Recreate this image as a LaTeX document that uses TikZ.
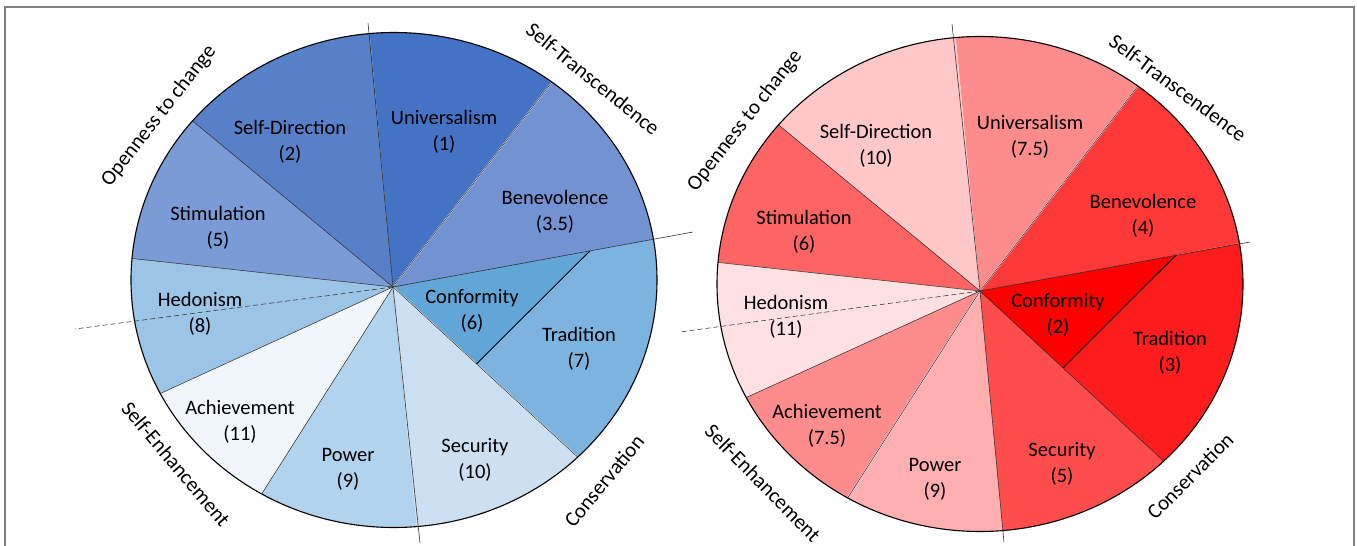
\documentclass[tikz,border=0pt]{standalone}
\usepackage{fontspec}
\setmainfont{Carlito}
\usetikzlibrary{calc}
\definecolor{LUni}{HTML}{4472C4}
\definecolor{LSD}{HTML}{5780C8}
\definecolor{LBen}{HTML}{7292D2}
\definecolor{LSti}{HTML}{7A9BD6}
\definecolor{LHed}{HTML}{9BC4E6}
\definecolor{LAch}{HTML}{F0F6FC}
\definecolor{LPow}{HTML}{B2D3ED}
\definecolor{LSec}{HTML}{CCE0F2}
\definecolor{LTra}{HTML}{7DB4DF}
\definecolor{LCon}{HTML}{62A6D8}
\definecolor{RUni}{HTML}{FF8C8C}
\definecolor{RSD}{HTML}{FFC8C8}
\definecolor{RBen}{HTML}{FF3838}
\definecolor{RSti}{HTML}{FF6464}
\definecolor{RHed}{HTML}{FFE1E3}
\definecolor{RAch}{HTML}{FF8C8C}
\definecolor{RPow}{HTML}{FFAFAF}
\definecolor{RSec}{HTML}{FF4D4D}
\definecolor{RTra}{HTML}{FF1C1C}
\definecolor{RCon}{HTML}{FF0000}
\definecolor{framegray}{HTML}{7F7F7F}
\newcommand{\mywedge}[6]{%
  \fill[#5] (#6) -- plot[domain=#3:#4, samples=40] ({#1+263*cos(\x)},{#2-247.5*sin(\x)}) -- cycle;}
\tikzset{
  sep/.style={draw=black!85, line width=0.5pt},
  whitesep/.style={draw=white, line width=1.2pt},
  rim/.style={draw=black, line width=1.1pt},
  axisline/.style={draw=black!80, line width=0.6pt},
  axisdash/.style={draw=black!75, line width=0.6pt, dash pattern=on 5pt off 3pt},
  frameline/.style={draw=framegray, line width=1.2pt},
  lab/.style={font=\fontsize{20.5}{26}\selectfont, align=center, text=black, inner sep=0pt},
  grp/.style={font=\fontsize{21}{25}\selectfont, text=black, inner sep=0pt},
}
\begin{document}
\begin{tikzpicture}[x=1pt,y=-1pt]
\useasboundingbox (0,0) rectangle (1357,546);
\fill[white] (0,0) rectangle (1357,546);
\draw[frameline] (5,546) -- (5,7) -- (1354,7) -- (1354,546);

% ---------------- left pie ----------------
\coordinate (LA) at (393,287);
\foreach \n/\t in {1/95.3,2/53.1,3/9.5,4/-45.7,5/-85,6/-120.2,7/207.3,8/175,9/140}{
  \coordinate (L\n) at ({394+263*cos(\t)},{280-247.5*sin(\t)});
}
\mywedge{394}{280}{53.1}{95.3}{LUni}{LA}
\mywedge{394}{280}{95.3}{140}{LSD}{LA}
\mywedge{394}{280}{140}{175}{LSti}{LA}
\mywedge{394}{280}{175}{207.3}{LHed}{LA}
\mywedge{394}{280}{207.3}{239.8}{LAch}{LA}
\mywedge{394}{280}{239.8}{275}{LPow}{LA}
\mywedge{394}{280}{275}{314.3}{LSec}{LA}
\mywedge{394}{280}{314.3}{369.5}{LTra}{LA}
\mywedge{394}{280}{9.5}{53.1}{LBen}{LA}
\coordinate (LC1) at ($(LA)!0.757!(L3)$);
\coordinate (LC2) at ($(LA)!0.452!(L4)$);
\fill[LCon] (LA) -- (LC1) -- (LC2) -- cycle;
\draw[whitesep] (LA) -- (L2);
\draw[whitesep] (LA) -- (L4);
\foreach \n in {2,4,6,7,8,9}{ \draw[sep] (LA) -- (L\n); }
\draw[draw=black, line width=0.9pt] (LC1) -- (LC2);
\draw[rim] (394,280) ellipse [x radius=263pt, y radius=247.5pt];
\coordinate (LVt) at (368,23);
\coordinate (LVb) at (420,543);
\coordinate (LE) at (693,232);
\coordinate (LD) at (75,329);
\draw[axisline] (LVt) -- (LA) -- (LVb);
\draw[axisline] (LA) -- (LE);
\draw[axisdash] (LA) -- (LD);

\node[lab] (lUni) at (444,132) {Universalism\\(1)};
\node[lab] (lSD) at (290,142) {Self-Direction\\(2)};
\node[lab] (lBen) at (555,212) {Benevolence\\(3.5)};
\node[lab] (lSti) at (218,228) {Stimulation\\(5)};
\node[lab] (lHed) at (200,314) {Hedonism\\(8)};
\node[lab] (lCon) at (472,311) {Conformity\\(6)};
\node[lab] (lTra) at (579,349) {Tradition\\(7)};
\node[lab] (lAch) at (240,422) {Achievement\\(11)};
\node[lab] (lPow) at (348,469) {Power\\(9)};
\node[lab] (lSec) at (475,460) {Security\\(10)};

\node[grp, rotate=52] (lgO) at (159,116) {Openness to change};
\node[grp, rotate=-39] (lgT) at (593,79) {Self-Transcendence};
\node[grp, rotate=50.5] (lgC) at (604,481) {Conservation};
\node[grp, rotate=-49.7] (lgE) at (176,464) {Self-Enhancement};

% ---------------- right pie ----------------
\coordinate (RA) at (980,291);
\foreach \n/\t in {1/95.3,2/53.1,3/9.5,4/-45.7,5/-85,6/-120.2,7/207.3,8/175,9/140}{
  \coordinate (R\n) at ({980+263*cos(\t)},{284-247.5*sin(\t)});
}
\mywedge{980}{284}{53.1}{95.3}{RUni}{RA}
\mywedge{980}{284}{95.3}{140}{RSD}{RA}
\mywedge{980}{284}{140}{175}{RSti}{RA}
\mywedge{980}{284}{175}{207.3}{RHed}{RA}
\mywedge{980}{284}{207.3}{239.8}{RAch}{RA}
\mywedge{980}{284}{239.8}{275}{RPow}{RA}
\mywedge{980}{284}{275}{314.3}{RSec}{RA}
\mywedge{980}{284}{314.3}{369.5}{RTra}{RA}
\mywedge{980}{284}{9.5}{53.1}{RBen}{RA}
\coordinate (RC1) at ($(RA)!0.757!(R3)$);
\coordinate (RC2) at ($(RA)!0.452!(R4)$);
\fill[RCon] (RA) -- (RC1) -- (RC2) -- cycle;
\draw[whitesep] (RA) -- (R2);
\draw[whitesep] (RA) -- (R6);
\foreach \n in {2,4,6,7,8,9}{ \draw[sep] (RA) -- (R\n); }
\draw[draw=black, line width=0.9pt] (RC1) -- (RC2);
\draw[rim] (980,284) ellipse [x radius=263pt, y radius=247.5pt];
\coordinate (RVt) at (952,24);
\coordinate (RVb) at (1004,542);
\coordinate (RE) at (1250,242);
\coordinate (RD) at (680,332);
\draw[axisline] (RVt) -- (RA) -- (RVb);
\draw[axisline] (RA) -- (RE);
\draw[axisdash] (RA) -- (RD);

\node[lab] (rUni) at (1030,137) {Universalism\\(7.5)};
\node[lab] (rSD) at (876,146) {Self-Direction\\(10)};
\node[lab] (rBen) at (1143,216) {Benevolence\\(4)};
\node[lab] (rSti) at (804,232) {Stimulation\\(6)};
\node[lab] (rHed) at (786,317) {Hedonism\\(11)};
\node[lab] (rCon) at (1058,315) {Conformity\\(2)};
\node[lab] (rTra) at (1170,353) {Tradition\\(3)};
\node[lab] (rAch) at (827,426) {Achievement\\(7.5)};
\node[lab] (rPow) at (935,479) {Power\\(9)};
\node[lab] (rSec) at (1062,464) {Security\\(5)};

\node[grp, rotate=52] (rgO) at (745,121) {Openness to change};
\node[grp, rotate=-36.5] (rgT) at (1178,88) {Self-Transcendence};
\node[grp, rotate=45] (rgC) at (1190,476) {Conservation};
\node[grp, rotate=-45.5] (rgE) at (763,483) {Self-Enhancement};
\end{tikzpicture}
\end{document}
